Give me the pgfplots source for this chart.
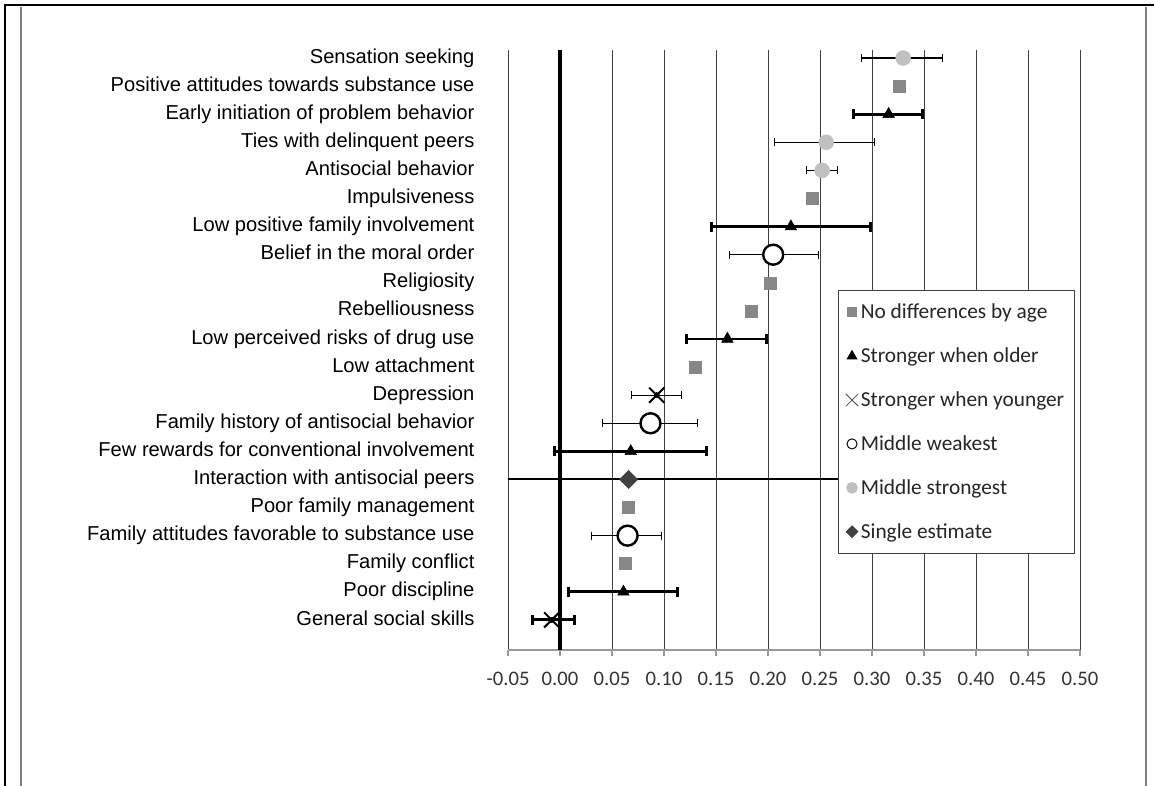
\documentclass[border=0pt]{standalone}
\usepackage{fontspec}
\setmainfont{Liberation Sans}
\newfontfamily\calibri{Carlito}
\usepackage{pgfplots}
\pgfplotsset{compat=1.18}
\definecolor{sqgrey}{RGB}{135,135,135}
\definecolor{ltgrey}{RGB}{192,192,192}
\definecolor{dkgrey}{RGB}{64,64,64}
\begin{document}
\begin{tikzpicture}
\useasboundingbox (0,0) rectangle (865.5pt,-589.5pt);
% outer frame
\draw[line width=2.2pt] (3pt,-3.75pt) -- (865.5pt,-3.75pt);
\draw[line width=1.5pt] (3.75pt,-3pt) -- (3.75pt,-589.5pt);
\draw[gray, line width=1.5pt] (15.75pt,-5.25pt) -- (15.75pt,-589.5pt);
\draw[gray, line width=1.5pt] (859.5pt,-5.25pt) -- (859.5pt,-589.5pt);
\begin{axis}[
  at={(381pt,-487.5pt)}, anchor=south west,
  scale only axis, width=429pt, height=450pt,
  xmin=-0.05, xmax=0.5, ymin=-0.07, ymax=21.285,
  axis x line*=bottom, axis y line*=left,
  y axis line style={draw=none},
  x axis line style={black!40, line width=1.2pt},
  xtick={-0.05,0,0.05,0.1,0.15,0.2,0.25,0.3,0.35,0.4,0.45,0.5},
  xticklabels={-0.05,0.00,0.05,0.10,0.15,0.20,0.25,0.30,0.35,0.40,0.45,0.50},
  xtick align=outside, major tick length=4.5pt,
  x tick style={black!40, line width=1pt},
  xmajorgrids, major grid style={black!75, line width=0.65pt},
  extra x ticks={0}, extra x tick labels={},
  extra x tick style={major grid style={black, line width=2.3pt}},
  xticklabel style={font=\calibri\fontsize{15.5}{18}\selectfont, text=black!80, yshift=-8.5pt},
  ytick={1,...,21},
  yticklabels={General social skills, Poor discipline, Family conflict,
    Family attitudes favorable to substance use, Poor family management,
    Interaction with antisocial peers, Few rewards for conventional involvement,
    Family history of antisocial behavior, Depression, Low attachment,
    Low perceived risks of drug use, Rebelliousness, Religiosity,
    Belief in the moral order, Low positive family involvement, Impulsiveness,
    Antisocial behavior, Ties with delinquent peers,
    Early initiation of problem behavior, Positive attitudes towards substance use,
    Sensation seeking},
  y tick style={draw=none},
  yticklabel style={font=\fontsize{15.1}{18}\selectfont, anchor=east, inner sep=0pt,
    text height=10.8pt, text depth=3.2pt, xshift=-25pt},
  legend image code/.code={\draw[mark repeat=2,mark phase=2,#1] plot coordinates {(0cm,0cm) (0.3cm,0cm) (0.5cm,0cm)};},
  legend style={at={(0.577,0.6)}, anchor=north west, draw=black!75, fill=white,
    line width=0.8pt, font=\calibri\fontsize{16}{18}\selectfont, text=black!85,
    row sep=16.3pt, inner xsep=5.5pt, inner ysep=8pt},
  legend cell align=left,
]
% error bars, thin
\addplot[only marks, mark=none, forget plot,
  error bars/.cd, x dir=both, x explicit, error mark=|,
  error bar style={black, line width=0.8pt},
  error mark options={black, line width=0.8pt, mark size=3pt}]
  coordinates {
  (0.330,21) += (0.038,0) -= (0.040,0)
  (0.256,18) += (0.046,0) -= (0.050,0)
  (0.252,17) += (0.015,0) -= (0.015,0)
  (0.205,14) += (0.044,0) -= (0.042,0)
  (0.093,9)  += (0.024,0) -= (0.024,0)
  (0.087,8)  += (0.045,0) -= (0.046,0)
  (0.065,4)  += (0.033,0) -= (0.035,0)
  };
% error bars, thick
\addplot[only marks, mark=none, forget plot,
  error bars/.cd, x dir=both, x explicit, error mark=|,
  error bar style={black, line width=2.2pt},
  error mark options={black, line width=2.2pt, mark size=3.8pt}]
  coordinates {
  (0.316,19) += (0.033,0) -= (0.034,0)
  (0.222,15) += (0.077,0) -= (0.076,0)
  (0.161,11) += (0.038,0) -= (0.039,0)
  (0.068,7)  += (0.073,0) -= (0.073,0)
  (0.061,2)  += (0.052,0) -= (0.053,0)
  (-0.008,1) += (0.022,0) -= (0.018,0)
  };
% error bar, single estimate
\addplot[only marks, mark=none, forget plot,
  error bars/.cd, x dir=both, x explicit, error mark=|,
  error bar style={black, line width=1.5pt},
  error mark options={black, line width=1.5pt, mark size=3.5pt}]
  coordinates {(0.066,6) += (0.32,0) -= (0.2,0)};
% markers
\addplot[only marks, mark=square*, mark size=4.5pt, color=sqgrey, forget plot]
  coordinates {(0.326,20) (0.243,16) (0.202,13) (0.184,12) (0.130,10) (0.066,5) (0.063,3)};
\addplot[only marks, mark=triangle*, mark size=5pt, color=black, forget plot]
  coordinates {(0.316,19) (0.222,15) (0.161,11) (0.068,7) (0.061,2)};
\addplot[only marks, mark=x, mark size=8pt, color=black, line width=1.5pt, forget plot]
  coordinates {(0.093,9) (-0.008,1)};
\addplot[only marks, mark=*, mark size=7.5pt, draw=black, fill=white, line width=1.8pt, forget plot]
  coordinates {(0.205,14) (0.087,8) (0.065,4)};
\addplot[only marks, mark=*, mark size=5.6pt, color=ltgrey, forget plot]
  coordinates {(0.330,21) (0.256,18) (0.252,17)};
\addplot[only marks, mark=square*, mark size=4.8pt, color=dkgrey, mark options={rotate=45}, forget plot]
  coordinates {(0.066,6)};
% legend
\addlegendimage{only marks, mark=square*, mark size=3.4pt, color=sqgrey}
\addlegendentry{No differences by age}
\addlegendimage{only marks, mark=triangle*, mark size=4pt, color=black}
\addlegendentry{Stronger when older}
\addlegendimage{only marks, mark=x, mark size=6.5pt, color=black!70, line width=0.6pt}
\addlegendentry{Stronger when younger}
\addlegendimage{only marks, mark=*, mark size=3.8pt, draw=black, fill=white, line width=0.7pt}
\addlegendentry{Middle weakest}
\addlegendimage{only marks, mark=*, mark size=4pt, color=ltgrey}
\addlegendentry{Middle strongest}
\addlegendimage{only marks, mark=square*, mark size=3pt, color=dkgrey, mark options={rotate=45}}
\addlegendentry{Single estimate}
\end{axis}
\end{tikzpicture}
\end{document}
